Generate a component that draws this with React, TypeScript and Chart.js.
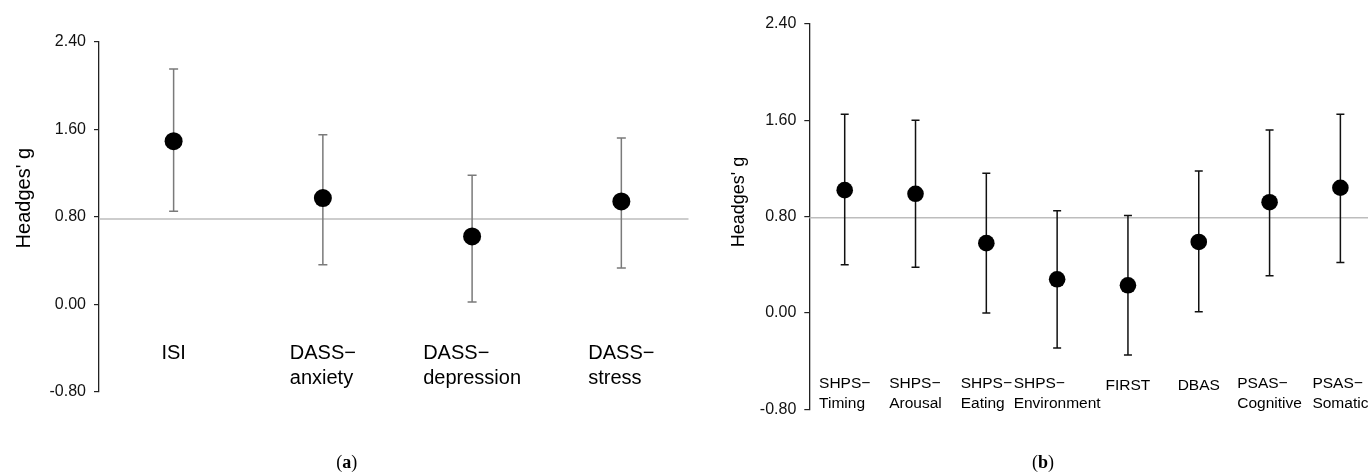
import React, { useEffect, useRef } from "react";
import { Chart, registerables } from "chart.js";

Chart.register(...registerables);

// ---------- data ----------
const leftCategories: string[][] = [["ISI"], ["DASS−", "anxiety"], ["DASS−", "depression"], ["DASS−", "stress"]];
const leftEffect = [1.49, 0.97, 0.62, 0.94];
const leftLower = [0.85, 0.36, 0.02, 0.33];
const leftUpper = [2.15, 1.55, 1.18, 1.52];
const leftReference = 0.78;

const rightCategories: string[][] = [
  ["SHPS−", "Timing"],
  ["SHPS−", "Arousal"],
  ["SHPS−", "Eating"],
  ["SHPS−", "Environment"],
  ["FIRST"],
  ["DBAS"],
  ["PSAS−", "Cognitive"],
  ["PSAS−", "Somatic"],
];
const rightEffect = [1.02, 0.99, 0.58, 0.28, 0.23, 0.59, 0.92, 1.04];
const rightLower = [0.4, 0.38, 0.0, -0.29, -0.35, 0.01, 0.31, 0.42];
const rightUpper = [1.65, 1.6, 1.16, 0.85, 0.81, 1.18, 1.52, 1.65];
const rightReference = 0.79;

const yTicks = [-0.8, 0, 0.8, 1.6, 2.4];
const yAxisTitle = "Headges' g";
const captionLetters = ["a", "b"];

const FONT = "'Liberation Sans', Arial, sans-serif";

type PanelCfg = {
  categories: string[][];
  effect: number[];
  lower: number[];
  upper: number[];
  reference: number;
  width: number;
  height: number;
  axisWidth: number;
  padTop: number;
  padBottom: number;
  padRight: number;
  xMax: number;
  pointRadius: number;
  barColor: string;
  barWidth: number;
  capHalf: number;
  refColor: string;
  tickSize: number;
  titleSize: number;
  titleX: number;
  titleFrac: number;
  labelSize: number;
  labelLine1: number;
  labelLineHeight: number;
  singleShift: number;
};

const leftCfg: PanelCfg = {
  categories: leftCategories,
  effect: leftEffect,
  lower: leftLower,
  upper: leftUpper,
  reference: leftReference,
  width: 690,
  height: 472,
  axisWidth: 99,
  padTop: 41.7,
  padBottom: 80.3,
  padRight: 1.5,
  xMax: 3.45,
  pointRadius: 9,
  barColor: "#7a7a7a",
  barWidth: 1.5,
  capHalf: 4.5,
  refColor: "#bdbdbd",
  tickSize: 16,
  titleSize: 20,
  titleX: 24,
  titleFrac: 0.447,
  labelSize: 20,
  labelLine1: -38.4,
  labelLineHeight: 25,
  singleShift: 0,
};

const rightCfg: PanelCfg = {
  categories: rightCategories,
  effect: rightEffect,
  lower: rightLower,
  upper: rightUpper,
  reference: rightReference,
  width: 678,
  height: 472,
  axisWidth: 119.3,
  padTop: 24,
  padBottom: 62.7,
  padRight: 0,
  xMax: 7.39,
  pointRadius: 8.3,
  barColor: "#111111",
  barWidth: 1.5,
  capHalf: 4,
  refColor: "#bdbdbd",
  tickSize: 16,
  titleSize: 18,
  titleX: 49,
  titleFrac: 0.462,
  labelSize: 15.5,
  labelLine1: -25.3,
  labelLineHeight: 19.3,
  singleShift: 2,
};

function buildChart(canvas: HTMLCanvasElement, cfg: PanelCfg) {
  const points = cfg.effect.map((v, i) => ({ x: i, y: v }));

  const decorations = {
    id: "decorations",
    beforeDatasetsDraw(chart: any) {
      const { ctx, chartArea, scales } = chart;
      const x = scales.x;
      const y = scales.y;
      ctx.save();
      // reference line
      const ry = y.getPixelForValue(cfg.reference);
      ctx.strokeStyle = cfg.refColor;
      ctx.lineWidth = 1.5;
      ctx.beginPath();
      ctx.moveTo(chartArea.left, ry);
      ctx.lineTo(chartArea.right, ry);
      ctx.stroke();
      // error bars
      ctx.strokeStyle = cfg.barColor;
      ctx.lineWidth = cfg.barWidth;
      cfg.effect.forEach((_, i) => {
        const px = x.getPixelForValue(i);
        const top = y.getPixelForValue(cfg.upper[i]);
        const bot = y.getPixelForValue(cfg.lower[i]);
        ctx.beginPath();
        ctx.moveTo(px, top);
        ctx.lineTo(px, bot);
        ctx.moveTo(px - cfg.capHalf, top);
        ctx.lineTo(px + cfg.capHalf, top);
        ctx.moveTo(px - cfg.capHalf, bot);
        ctx.lineTo(px + cfg.capHalf, bot);
        ctx.stroke();
      });
      ctx.restore();
    },
    afterDraw(chart: any) {
      const { ctx, chartArea, scales } = chart;
      const x = scales.x;
      ctx.save();
      // category labels (left-aligned block centered on the point)
      ctx.fillStyle = "#000";
      ctx.font = `${cfg.labelSize}px ${FONT}`;
      ctx.textBaseline = "middle";
      ctx.textAlign = "left";
      cfg.categories.forEach((lines, i) => {
        const cx = x.getPixelForValue(i);
        const w = Math.max(...lines.map((l) => ctx.measureText(l).width));
        const left = cx - w / 2;
        const y0 = chartArea.bottom + cfg.labelLine1 + (lines.length === 1 ? cfg.singleShift : 0);
        lines.forEach((l, k) => {
          ctx.fillText(l, left, y0 + k * cfg.labelLineHeight);
        });
      });
      // axis title
      ctx.font = `${cfg.titleSize}px ${FONT}`;
      ctx.textAlign = "center";
      ctx.translate(cfg.titleX, chartArea.top + cfg.titleFrac * (chartArea.bottom - chartArea.top));
      ctx.rotate(-Math.PI / 2);
      ctx.fillText(yAxisTitle, 0, 0);
      ctx.restore();
    },
  };

  return new Chart(canvas, {
    type: "scatter",
    data: {
      datasets: [
        {
          data: points,
          pointRadius: cfg.pointRadius,
          pointHoverRadius: cfg.pointRadius,
          pointBackgroundColor: "#000",
          pointBorderWidth: 0,
          showLine: false,
          clip: false as any,
        },
      ],
    },
    options: {
      responsive: false,
      animation: false,
      events: [],
      layout: {
        autoPadding: false,
        padding: { left: 0, right: cfg.padRight, top: cfg.padTop, bottom: cfg.padBottom },
      },
      plugins: {
        legend: { display: false },
        tooltip: { enabled: false },
      },
      scales: {
        x: {
          type: "linear",
          min: -0.5,
          max: cfg.xMax,
          display: false,
        },
        y: {
          type: "linear",
          min: -0.8,
          max: 2.4,
          afterBuildTicks: (s: any) => {
            s.ticks = yTicks.map((v) => ({ value: v }));
          },
          afterFit: (s: any) => {
            s.width = cfg.axisWidth;
          },
          ticks: {
            callback: (v: any) => Number(v).toFixed(2),
            font: { family: FONT, size: cfg.tickSize },
            color: "#111",
            padding: 8,
          },
          grid: {
            drawOnChartArea: false,
            drawTicks: true,
            tickLength: 5,
            color: "#222",
            lineWidth: 1.2,
          },
          border: { display: true, color: "#222", width: 1.3 },
        },
      },
    },
    plugins: [decorations],
  } as any);
}

function Panel({ cfg, left }: { cfg: PanelCfg; left: number }) {
  const ref = useRef<HTMLCanvasElement | null>(null);
  useEffect(() => {
    if (!ref.current) return;
    const chart = buildChart(ref.current, cfg);
    return () => chart.destroy();
  }, [cfg]);
  return (
    <canvas
      ref={ref}
      width={cfg.width}
      height={cfg.height}
      style={{ position: "absolute", left, top: 0, width: cfg.width, height: cfg.height }}
    />
  );
}

export default function App() {
  const captionStyle = (center: number): React.CSSProperties => ({
    position: "absolute",
    left: center,
    top: 452,
    transform: "translateX(-50%)",
    fontFamily: "'Liberation Serif', 'DejaVu Serif', serif",
    fontSize: 18,
    lineHeight: "20px",
    color: "#000",
    whiteSpace: "nowrap",
  });
  return (
    <div
      style={{
        position: "fixed",
        left: 0,
        top: 0,
        width: 1368,
        height: 472,
        background: "#fff",
        overflow: "hidden",
      }}
    >
      <Panel cfg={leftCfg} left={0} />
      <Panel cfg={rightCfg} left={690} />
      <span style={captionStyle(346.7)}>
        (<b>{captionLetters[0]}</b>)
      </span>
      <span style={captionStyle(1043)}>
        (<b>{captionLetters[1]}</b>)
      </span>
    </div>
  );
}
